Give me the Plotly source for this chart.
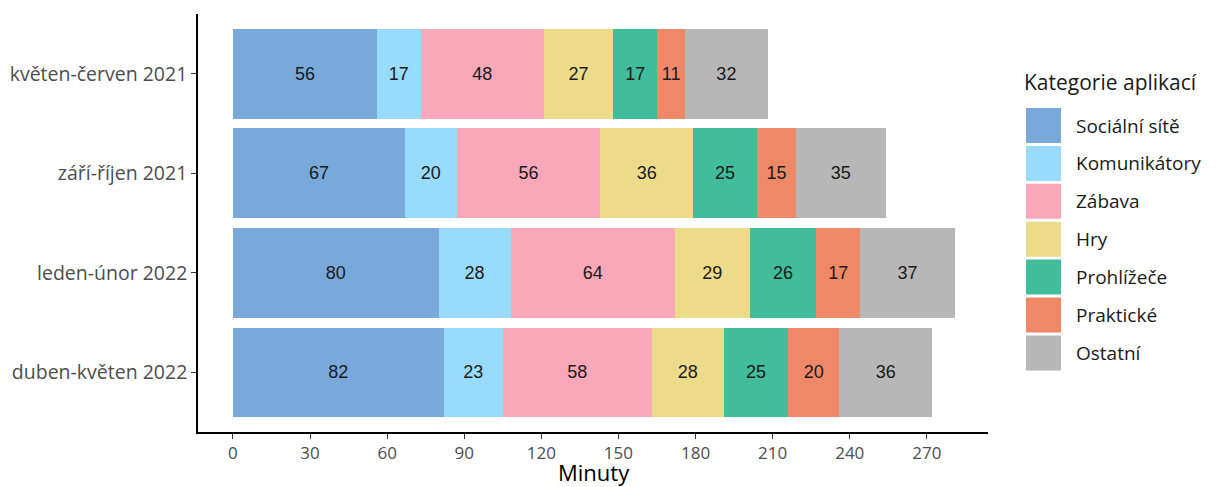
import plotly.graph_objects as go

periods = ["květen-červen 2021", "září-říjen 2021", "leden-únor 2022", "duben-květen 2022"]
series_names = ["Sociální sítě", "Komunikátory", "Zábava", "Hry", "Prohlížeče", "Praktické", "Ostatní"]
socialni = [56, 67, 80, 82]
komunikatory = [17, 20, 28, 23]
zabava = [48, 56, 64, 58]
hry = [27, 36, 29, 28]
prohlizece = [17, 25, 26, 25]
prakticke = [11, 15, 17, 20]
ostatni = [32, 35, 37, 36]
series_values = [socialni, komunikatory, zabava, hry, prohlizece, prakticke, ostatni]
colors = ["#78A9DA", "#99DBFC", "#F9A8BA", "#ECDC8A", "#42BD9B", "#EE8867", "#B7B7B7"]
x_ticks = [0, 30, 60, 90, 120, 150, 180, 210, 240, 270]

W, H = 1226, 487
ml, mr, mt, mb = 198, 238, 14, 55
pw, ph = W - ml - mr, H - mt - mb

fig = go.Figure()
for name, vals, col in zip(series_names, series_values, colors):
    fig.add_trace(go.Bar(
        y=periods, x=vals, name=name, orientation="h",
        marker=dict(color=col, line=dict(width=0)),
        text=[str(v) for v in vals], textposition="inside",
        insidetextanchor="middle", constraintext="none",
        textfont=dict(family="Liberation Sans, Arial", size=18, color="#1a1a1a"),
        width=0.9, showlegend=False,
    ))

def px_to_paper_x(px):
    return (px - ml) / pw

def px_to_paper_y(py):
    return (H - mb - py) / ph

shapes = []
annotations = [dict(
    text="Kategorie aplikací", x=px_to_paper_x(1022), y=px_to_paper_y(82),
    xref="paper", yref="paper", xanchor="left", yanchor="middle", showarrow=False,
    font=dict(family="Open Sans", size=21, color="#1a1a1a"),
), dict(
    text="Minuty", x=px_to_paper_x(594), y=px_to_paper_y(472),
    xref="paper", yref="paper", xanchor="center", yanchor="middle", showarrow=False,
    font=dict(family="Open Sans", size=22, color="black"),
)]
for i, (name, col) in enumerate(zip(series_names, colors)):
    top = 108 + i * 37.9
    shapes.append(dict(
        type="rect", xref="paper", yref="paper",
        x0=px_to_paper_x(1026), x1=px_to_paper_x(1061),
        y0=px_to_paper_y(top), y1=px_to_paper_y(top + 35),
        fillcolor=col, line=dict(width=0),
    ))
    annotations.append(dict(
        text=name, x=px_to_paper_x(1074), y=px_to_paper_y(top + 17.5),
        xref="paper", yref="paper", xanchor="left", yanchor="middle", showarrow=False,
        font=dict(family="Open Sans", size=19, color="#1a1a1a"),
    ))

fig.update_layout(
    barmode="stack", bargap=0.1,
    width=W, height=H,
    margin=dict(l=ml, r=mr, t=mt, b=mb, pad=0),
    paper_bgcolor="white", plot_bgcolor="white",
    shapes=shapes, annotations=annotations,
    xaxis=dict(
        range=[-13.6, 293.8], tickvals=x_ticks, ticktext=[str(t) for t in x_ticks],
        showline=True, linecolor="black", linewidth=1.6, showgrid=False, zeroline=False,
        ticks="outside", ticklen=5, tickwidth=1.2, tickcolor="#333333",
        tickfont=dict(family="Open Sans", size=17, color="#4d4d4d"),
        automargin=False,
    ),
    yaxis=dict(
        type="category", categoryorder="array", categoryarray=periods,
        range=[3.6, -0.6],
        showline=True, linecolor="black", linewidth=1.6, showgrid=False, zeroline=False,
        ticks="outside", ticklen=5, tickwidth=1.2, tickcolor="#333333",
        tickfont=dict(family="Open Sans", size=19.5, color="#4d4d4d"),
        automargin=False,
    ),
)

fig.write_html("out.html", config={"displayModeBar": False},
               post_script="document.body.style.margin='0';document.body.style.overflow='hidden';")
